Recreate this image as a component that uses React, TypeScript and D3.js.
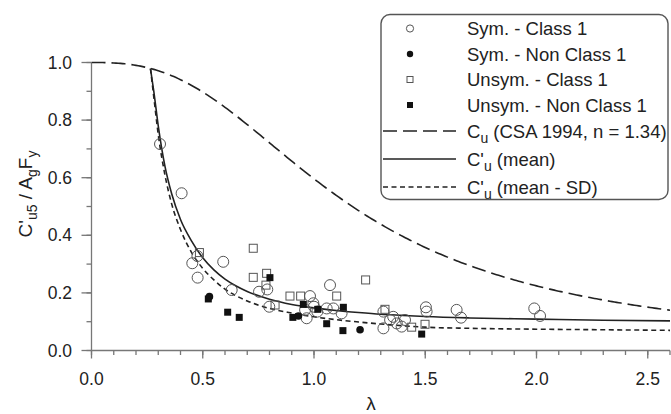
import React from "react";
import * as d3 from "d3";

// ---------- data ----------
const symClass1: [number, number][] = [
  [0.308, 0.717], [0.405, 0.546], [0.453, 0.303], [0.476, 0.328], [0.477, 0.253],
  [0.592, 0.308], [0.63, 0.21], [0.753, 0.204], [0.79, 0.212], [0.799, 0.152],
  [0.96, 0.141], [0.967, 0.112], [0.982, 0.189], [0.997, 0.164], [1.0, 0.152],
  [1.015, 0.135], [1.057, 0.146], [1.072, 0.227], [1.087, 0.146], [1.124, 0.129],
  [1.312, 0.135], [1.312, 0.077], [1.342, 0.106], [1.356, 0.117], [1.372, 0.094],
  [1.394, 0.083], [1.409, 0.106], [1.503, 0.15], [1.506, 0.135], [1.641, 0.141],
  [1.661, 0.114], [1.99, 0.146], [2.016, 0.12],
];
const symNonClass1: [number, number][] = [
  [0.53, 0.187], [0.93, 0.12], [1.207, 0.072],
];
const unsymClass1: [number, number][] = [
  [0.485, 0.34], [0.727, 0.355], [0.727, 0.254], [0.784, 0.227], [0.787, 0.268],
  [0.825, 0.158], [0.892, 0.189], [0.94, 0.189], [1.102, 0.189], [1.232, 0.245],
  [1.319, 0.143], [1.439, 0.081], [1.499, 0.091],
];
const unsymNonClass1: [number, number][] = [
  [0.525, 0.179], [0.612, 0.133], [0.664, 0.115], [0.802, 0.253], [0.905, 0.115],
  [0.952, 0.16], [1.017, 0.143], [1.057, 0.093], [1.13, 0.069], [1.132, 0.15],
  [1.484, 0.057],
];

// CSA 1994 resistance curve parameter
const csaN = 1.34;
const csaLambda: number[] = d3.range(0, 2.6001, 0.01);

// C'u (mean) curve
const meanCurve: [number, number][] = [
  [0.265, 0.979], [0.28, 0.9], [0.3, 0.78], [0.33, 0.64], [0.36, 0.545], [0.4, 0.455],
  [0.45, 0.38], [0.5, 0.322], [0.55, 0.28], [0.6, 0.248], [0.65, 0.224], [0.7, 0.205],
  [0.8, 0.178], [0.9, 0.16], [1.0, 0.148], [1.1, 0.139], [1.2, 0.132], [1.3, 0.126],
  [1.4, 0.122], [1.5, 0.118], [1.7, 0.113], [2.0, 0.109], [2.3, 0.105], [2.6, 0.103],
];
// C'u (mean - SD) curve
const meanSDCurve: [number, number][] = [
  [0.265, 0.979], [0.28, 0.88], [0.3, 0.75], [0.33, 0.61], [0.36, 0.51], [0.4, 0.42],
  [0.45, 0.34], [0.5, 0.285], [0.55, 0.245], [0.6, 0.213], [0.65, 0.19], [0.7, 0.172],
  [0.8, 0.146], [0.9, 0.13], [1.0, 0.117], [1.1, 0.107], [1.2, 0.099], [1.3, 0.092],
  [1.4, 0.086], [1.5, 0.081], [1.7, 0.077], [2.0, 0.074], [2.3, 0.072], [2.6, 0.07],
];

const xMajorTicks = [0, 0.5, 1.0, 1.5, 2.0, 2.5];
const xMinorTicks = d3.range(0, 27).map((i) => i / 10);
const yMajorTicks = [0, 0.2, 0.4, 0.6, 0.8, 1.0];
const yMinorTicks = d3.range(0, 11).map((i) => i / 10);

// ---------- layout ----------
const W = 671, H = 414;
const x = d3.scaleLinear().domain([0, 2.6]).range([91.5, 670]);
const y = d3.scaleLinear().domain([0, 1]).range([350.5, 62.5]);

const FONT = "'Liberation Sans', Arial, sans-serif";
const INK = "#222";
const AXIS = "#777";

const line = d3.line<[number, number]>().x((d) => x(d[0])).y((d) => y(d[1]));
const smooth = d3
  .line<[number, number]>()
  .x((d) => x(d[0]))
  .y((d) => y(d[1]))
  .curve(d3.curveMonotoneX);

const csaPts: [number, number][] = csaLambda.map((l) => [
  l,
  Math.pow(1 + Math.pow(l, 2 * csaN), -1 / csaN),
]);

function OpenCircle({ cx, cy, r }: { cx: number; cy: number; r: number }) {
  return <circle cx={cx} cy={cy} r={r} fill="none" stroke="#555" strokeWidth={1} />;
}
function FilledCircle({ cx, cy, r }: { cx: number; cy: number; r: number }) {
  return <circle cx={cx} cy={cy} r={r} fill="#111" stroke="none" />;
}
function OpenSquare({ cx, cy, s }: { cx: number; cy: number; s: number }) {
  return <rect x={cx - s / 2} y={cy - s / 2} width={s} height={s} fill="none" stroke="#555" strokeWidth={1} />;
}
function FilledSquare({ cx, cy, s }: { cx: number; cy: number; s: number }) {
  return <rect x={cx - s / 2} y={cy - s / 2} width={s} height={s} fill="#111" />;
}

export default function App() {
  const legX0 = 383, legX1 = 456, legSym = 410, legText = 467;
  const rows = [28.5, 54, 79.5, 105, 131, 159, 187];
  const fs = 18.5;
  const sub = { fontSize: 14, dy: 5 };
  return (
    <svg
      width={W}
      height={H}
      viewBox={`0 0 ${W} ${H}`}
      style={{ position: "absolute", left: 0, top: 0, background: "#fff" }}
      fontFamily={FONT}
    >
      <defs>
        <clipPath id="plot">
          <rect x={x(0)} y={y(1) - 2} width={x(2.6) - x(0) + 2} height={y(0) - y(1) + 4} />
        </clipPath>
      </defs>

      {/* axes */}
      <g stroke={AXIS} strokeWidth={1.3}>
        <line x1={x(0)} x2={x(0)} y1={y(1)} y2={y(0)} />
        <line x1={x(0)} x2={x(2.6)} y1={y(0)} y2={y(0)} />
        {xMinorTicks.map((t) => (
          <line key={"xm" + t} x1={x(t)} x2={x(t)} y1={y(0)} y2={y(0) + 4.5} />
        ))}
        {xMajorTicks.map((t) => (
          <line key={"xM" + t} x1={x(t)} x2={x(t)} y1={y(0)} y2={y(0) + 8} />
        ))}
        {yMinorTicks.map((t) => (
          <line key={"ym" + t} x1={x(0) - 5} x2={x(0)} y1={y(t)} y2={y(t)} />
        ))}
        {yMajorTicks.map((t) => (
          <line key={"yM" + t} x1={x(0) - 10} x2={x(0)} y1={y(t)} y2={y(t)} />
        ))}
      </g>
      <g fill={INK} fontSize={17.5}>
        {xMajorTicks.map((t) => (
          <text key={"xl" + t} x={x(t)} y={385} textAnchor="middle">
            {t.toFixed(1)}
          </text>
        ))}
        {yMajorTicks.map((t) => (
          <text key={"yl" + t} x={72} y={y(t) + 6} textAnchor="end">
            {t.toFixed(1)}
          </text>
        ))}
      </g>

      {/* axis titles */}
      <text x={371} y={410} fontSize={19} fill={INK} textAnchor="middle">
        λ
      </text>
      <text
        transform={`translate(32,${194}) rotate(-90)`}
        fontSize={19}
        fill={INK}
        textAnchor="middle"
      >
        C'
        <tspan fontSize={sub.fontSize} dy={sub.dy}>u5</tspan>
        <tspan dy={-sub.dy}> / A</tspan>
        <tspan fontSize={sub.fontSize} dy={sub.dy}>g</tspan>
        <tspan dy={-sub.dy}>F</tspan>
        <tspan fontSize={sub.fontSize} dy={sub.dy}>y</tspan>
      </text>

      {/* curves */}
      <g clipPath="url(#plot)" fill="none" stroke={INK} strokeWidth={1.6}>
        <path d={line(csaPts) || ""} strokeDasharray="14,6" />
        <path d={smooth(meanCurve) || ""} />
        <path d={smooth(meanSDCurve) || ""} strokeDasharray="5,3.5" />
      </g>

      {/* data */}
      <g>
        {symClass1.map((d, i) => (
          <OpenCircle key={"a" + i} cx={x(d[0])} cy={y(d[1])} r={5.5} />
        ))}
        {unsymClass1.map((d, i) => (
          <OpenSquare key={"b" + i} cx={x(d[0])} cy={y(d[1])} s={8} />
        ))}
        {unsymNonClass1.map((d, i) => (
          <FilledSquare key={"c" + i} cx={x(d[0])} cy={y(d[1])} s={7} />
        ))}
        {symNonClass1.map((d, i) => (
          <FilledCircle key={"d" + i} cx={x(d[0])} cy={y(d[1])} r={3.8} />
        ))}
      </g>

      {/* legend */}
      <rect x={381} y={14.5} width={287} height={185} rx={9} fill="#fff" stroke="#555" strokeWidth={1.4} />
      <OpenCircle cx={legSym} cy={rows[0]} r={3.6} />
      <FilledCircle cx={legSym} cy={rows[1]} r={3.2} />
      <OpenSquare cx={legSym} cy={rows[2]} s={6} />
      <FilledSquare cx={legSym} cy={rows[3]} s={6} />
      <g fill="none" stroke={INK} strokeWidth={1.6}>
        <line x1={legX0} x2={legX1} y1={rows[4]} y2={rows[4]} strokeDasharray="14,6" />
        <line x1={legX0} x2={legX1} y1={rows[5]} y2={rows[5]} />
        <line x1={legX0} x2={legX1} y1={rows[6]} y2={rows[6]} strokeDasharray="5,3.5" />
      </g>
      <g fill={INK} fontSize={fs}>
        <text x={legText} y={rows[0] + 6.5}>Sym. - Class 1</text>
        <text x={legText} y={rows[1] + 6.5}>Sym. - Non Class 1</text>
        <text x={legText} y={rows[2] + 6.5}>Unsym. - Class 1</text>
        <text x={legText} y={rows[3] + 6.5}>Unsym. - Non Class 1</text>
        <text x={legText} y={rows[4] + 6.5}>
          C<tspan fontSize={sub.fontSize} dy={sub.dy}>u</tspan>
          <tspan dy={-sub.dy}> (CSA 1994, n = 1.34)</tspan>
        </text>
        <text x={legText} y={rows[5] + 6.5}>
          C'<tspan fontSize={sub.fontSize} dy={sub.dy}>u</tspan>
          <tspan dy={-sub.dy}> (mean)</tspan>
        </text>
        <text x={legText} y={rows[6] + 6.5}>
          C'<tspan fontSize={sub.fontSize} dy={sub.dy}>u</tspan>
          <tspan dy={-sub.dy}> (mean - SD)</tspan>
        </text>
      </g>
    </svg>
  );
}
